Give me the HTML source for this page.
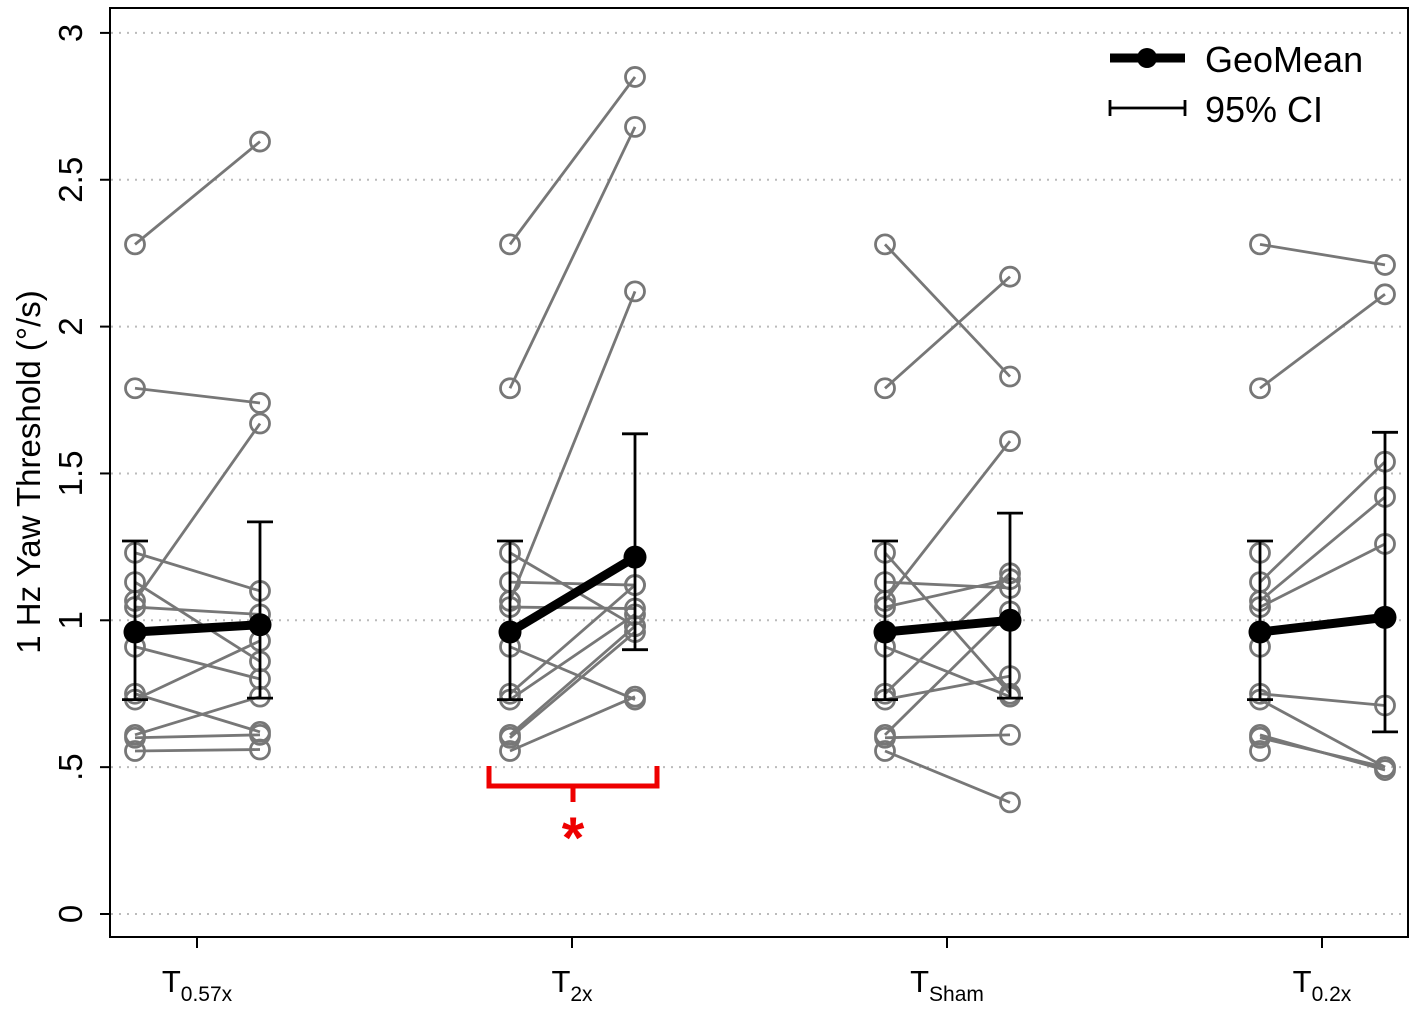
<!DOCTYPE html>
<html><head><meta charset="utf-8"><style>
body{margin:0;background:#fff}
svg{display:block;font-family:"Liberation Sans",sans-serif}
</style></head><body>
<svg id="c" width="1417" height="1012" viewBox="0 0 1417 1012"></svg>
<script>
const groups=["0.57x","2x","Sham","0.2x"];
const yTicks=[0,0.5,1,1.5,2,2.5,3];
const yTickLabels=["0",".5","1","1.5","2","2.5","3"];
const preVals=[2.28,1.79,1.23,1.13,1.066,1.045,0.91,0.75,0.73,0.61,0.60,0.555];
const postG1=[2.63,1.74,1.10,0.86,1.67,1.02,0.80,0.62,0.93,0.74,0.61,0.56];
const postG2=[2.85,2.68,0.98,1.12,2.12,1.04,0.73,1.12,1.02,0.98,0.96,0.74];
const postG3=[1.83,2.17,0.75,1.11,1.61,1.14,0.74,1.16,0.81,1.03,0.61,0.38];
const postG4=[2.21,2.11,null,1.54,1.42,1.26,null,0.71,0.50,0.49,0.50,null];
const posts=[postG1,postG2,postG3,postG4];
const preMean=0.96, preLo=0.73, preHi=1.27;
const postMean=[0.985,1.215,1.00,1.01];
const postLo=[0.735,0.90,0.735,0.62];
const postHi=[1.335,1.635,1.365,1.64];

const NS="http://www.w3.org/2000/svg";
const svg=document.getElementById('c');
const y=v=>914-v*293.7;
const xc=i=>197+i*375;
function el(t,a,p){const e=document.createElementNS(NS,t);for(const k in a)e.setAttribute(k,a[k]);(p||svg).appendChild(e);return e;}

yTicks.forEach((t,i)=>{
  const g=el('line',{x1:111,x2:1407,y1:y(t),y2:y(t),stroke:'#bbb','stroke-width':2,'stroke-dasharray':'2 6'});
  
  el('line',{x1:100,x2:110,y1:y(t),y2:y(t),stroke:'#000','stroke-width':2});
  const tx=el('text',{x:0,y:0,transform:`translate(82 ${y(t)}) rotate(-90)`,'text-anchor':'middle','font-size':33});
  tx.textContent=yTickLabels[i];
  
});
const frame=el('rect',{x:110,y:8,width:1298,height:929,fill:'none',stroke:'#000','stroke-width':2});

const yl=el('text',{transform:'translate(40 472) rotate(-90)','text-anchor':'middle','font-size':33});
yl.textContent='1 Hz Yaw Threshold (°/s)';


groups.forEach((g,gi)=>{
  const xp=xc(gi)-62, xq=xc(gi)+63;
  el('line',{x1:xc(gi),x2:xc(gi),y1:937,y2:948,stroke:'#000','stroke-width':2});
  const t=el('text',{x:xc(gi),y:992,'text-anchor':'middle','font-size':31});
  t.innerHTML=`T<tspan font-size="21" dy="9">${g}</tspan>`;
  
  const post=posts[gi];
  preVals.forEach((p,i)=>{
    if(post[i]!=null){const l=el('line',{x1:xp,y1:y(p),x2:xq,y2:y(post[i]),stroke:'#777','stroke-width':2.8});
      }
  });
  preVals.forEach((p,i)=>{
    const c=el('circle',{cx:xp,cy:y(p),r:9.5,fill:'none',stroke:'#777','stroke-width':2.8});
    
    if(post[i]!=null){const d=el('circle',{cx:xq,cy:y(post[i]),r:9.5,fill:'none',stroke:'#777','stroke-width':2.8});
      }
  });
  [[xp,preLo,preHi],[xq,postLo[gi],postHi[gi]]].forEach(([x,lo,hi])=>{
    const e=el('path',{d:`M${x} ${y(lo)}V${y(hi)}M${x-13} ${y(lo)}H${x+13}M${x-13} ${y(hi)}H${x+13}`,stroke:'#000','stroke-width':2.8,fill:'none'});
    
  });
  const m=el('line',{x1:xp,y1:y(preMean),x2:xq,y2:y(postMean[gi]),stroke:'#000','stroke-width':9});
  
  [[xp,preMean],[xq,postMean[gi]]].forEach(([x,v])=>{
    const c=el('circle',{cx:x,cy:y(v),r:11.5,fill:'#000'});
    
  });
});
const br=el('path',{d:'M489 766V786H657V766M573 786V802',stroke:'#e00','stroke-width':5,fill:'none'});

const st=el('text',{x:573,y:858,'text-anchor':'middle','font-size':58,'font-weight':'bold',fill:'#e00'});
st.textContent='*';

const lg=el('g',{});

el('line',{x1:1110,x2:1185,y1:58,y2:58,stroke:'#000','stroke-width':9},lg);
el('circle',{cx:1147,cy:58,r:10,fill:'#000'},lg);
const t1=el('text',{x:1205,y:72,'font-size':36},lg);t1.textContent='GeoMean';

el('path',{d:'M1110 108H1185M1110 100V116M1185 100V116',stroke:'#000','stroke-width':2.8},lg);
const t2=el('text',{x:1205,y:122,'font-size':36},lg);t2.textContent='95% CI';

</script>
</body></html>
